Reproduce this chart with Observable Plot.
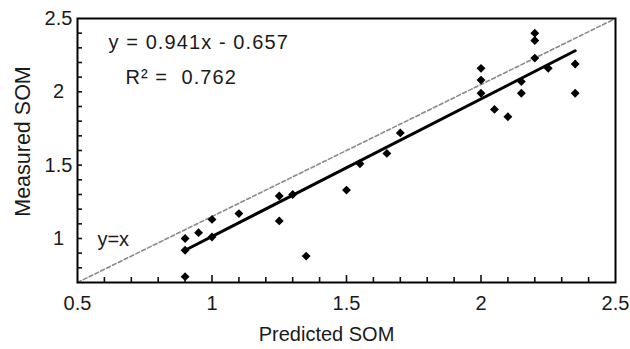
<!DOCTYPE html>
<html><head><meta charset="utf-8">
<script src="https://cdn.jsdelivr.net/npm/d3@7"></script>
<script src="https://cdn.jsdelivr.net/npm/@observablehq/plot@0.6"></script>
<style>body{margin:0;background:#fff} svg{display:block}</style>
</head><body><div id="chart"></div>
<script>
const predicted = [0.90, 0.90, 0.90, 0.95, 1.00, 1.00, 1.10, 1.25, 1.25, 1.30, 1.35, 1.50, 1.55, 1.65, 1.70,
                   2.00, 2.00, 2.00, 2.05, 2.10, 2.15, 2.15, 2.20, 2.20, 2.20, 2.25, 2.35, 2.35];
const measured  = [1.00, 0.92, 0.74, 1.04, 1.13, 1.01, 1.17, 1.29, 1.12, 1.30, 0.88, 1.33, 1.51, 1.58, 1.72,
                   2.16, 2.08, 1.99, 1.88, 1.83, 2.07, 1.99, 2.40, 2.35, 2.23, 2.16, 2.19, 1.99];
// Fitted regression line end points
const fitX = [0.90, 2.35];
const fitY = [0.92, 2.28];
// Reference "y=x" line end points
const refX = [0.5, 2.5];
const refY = [0.7, 2.5];
// Axes
const xTickLabels = [0.5, 1, 1.5, 2, 2.5];
const yTickLabels = [1, 1.5, 2, 2.5];
const xMajorTicks = [1, 1.5, 2];
const xMinorTicks = [0.6, 0.7, 0.8, 0.9, 1.1, 1.2, 1.3, 1.4, 1.6, 1.7, 1.8, 1.9, 2.1, 2.2, 2.3, 2.4];
const yMinorTicks = [0.8, 0.9, 1.0, 1.1, 1.2, 1.3, 1.4, 1.5, 1.6, 1.7, 1.8, 1.9, 2.0, 2.1, 2.2, 2.3, 2.4];
const xTitle = "Predicted SOM";
const yTitle = "Measured SOM";
const equationText = "y = 0.941x - 0.657";
const r2Text = "R² =  0.762";
const refText = "y=x";

const points = predicted.map((x, i) => ({x, y: measured[i]}));
const fitLine = fitX.map((x, i) => ({x, y: fitY[i]}));
const refLine = refX.map((x, i) => ({x, y: refY[i]}));

const W = 630, H = 349, mL = 77, mR = 15, mT = 18, mB = 67;
const frameW = W - mL - mR, frameH = H - mT - mB;

const chart = Plot.plot({
  width: W, height: H,
  marginLeft: mL, marginRight: mR, marginTop: mT, marginBottom: mB,
  x: {domain: [0.5, 2.5]},
  y: {domain: [0.7, 2.5]},
  style: {fontFamily: "'Liberation Sans', Arial, sans-serif", color: "#1a1a1a", background: "#fff", overflow: "visible"},
  marks: [
    Plot.line(refLine, {x: "x", y: "y", stroke: "#8a8a8a", strokeWidth: 1.6, strokeDasharray: "4,2.5"}),
    Plot.line(fitLine, {x: "x", y: "y", stroke: "#000", strokeWidth: 3}),
    Plot.dot(points, {x: "x", y: "y", symbol: "diamond2", r: 4, fill: "#000", stroke: "none"}),
    Plot.ruleX(xMinorTicks, {x: d => d, insetTop: frameH - 5, stroke: "#111", strokeWidth: 1.6}),
    Plot.ruleX(xMajorTicks, {x: d => d, insetTop: frameH - 7, stroke: "#111", strokeWidth: 1.6}),
    Plot.ruleY(yMinorTicks, {y: d => d, insetRight: frameW - 5, stroke: "#111", strokeWidth: 1.6}),
    Plot.axisX(xTickLabels, {tickSize: 0, tickPadding: 13, fontSize: 20, tickFormat: d => String(d), label: null}),
    Plot.axisY(yTickLabels, {tickSize: 0, tickPadding: 19, textAnchor: "middle", fontSize: 20, tickFormat: d => String(d), label: null}),
    Plot.frame({stroke: "#000", strokeWidth: 2}),
    Plot.text([equationText], {x: 0.615, y: 2.336, text: d => d, textAnchor: "start", fontSize: 20}),
    Plot.text([r2Text], {x: 0.678, y: 2.098, text: d => d, textAnchor: "start", fontSize: 20}),
    Plot.text([refText], {x: 0.574, y: 0.994, text: d => d, textAnchor: "start", fontSize: 20}),
    Plot.text([xTitle], {frameAnchor: "bottom", textAnchor: "middle", lineAnchor: "middle", dx: -20, dy: 52, text: d => d, fontSize: 20}),
    Plot.text([yTitle], {frameAnchor: "left", textAnchor: "middle", lineAnchor: "middle", dx: -54, dy: -9, rotate: -90, text: d => d, fontSize: 21.5})
  ]
});
d3.select(chart).selectAll("text")
  .filter(function() { return this.textContent === equationText || this.textContent === r2Text; })
  .style("letter-spacing", "1.1px");
document.getElementById("chart").appendChild(chart);
</script>
</body></html>
